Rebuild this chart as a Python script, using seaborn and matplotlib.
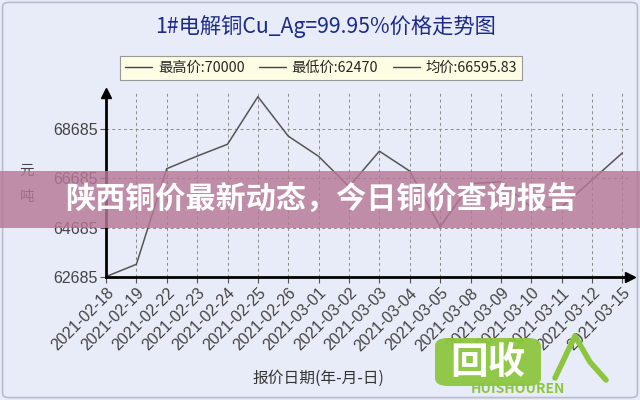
import matplotlib
matplotlib.use('Agg')
import matplotlib.pyplot as plt
import matplotlib.patches as mpatches
from matplotlib.lines import Line2D
import seaborn as sns
import pandas as pd

sns.set_theme(style='white')
plt.rcParams['font.family'] = ['Noto Sans CJK SC', 'DejaVu Sans']
plt.rcParams['axes.unicode_minus'] = False

# data
dates = ['2021-02-18', '2021-02-19', '2021-02-22', '2021-02-23', '2021-02-24',
         '2021-02-25', '2021-02-26', '2021-03-01', '2021-03-02', '2021-03-03',
         '2021-03-04', '2021-03-05', '2021-03-08', '2021-03-09', '2021-03-10',
         '2021-03-11', '2021-03-12', '2021-03-15']
prices = [62700, 63200, 67080, 67590, 68070, 70000, 68400, 67580, 66350, 67790,
          66980, 64720, 66470, 66550, 65500, 65520, 66620, 67720]
yticks = [62685, 64685, 66685, 68685]
legend_items = ['最高价:70000', '最低价:62470', '均价:66595.83']

BG = '#e8ecf8'
GRID = '#8a8a8a'
TXT = '#444444'

df = pd.DataFrame({'idx': range(len(dates)), 'price': prices})

fig = plt.figure(figsize=(6.4, 4.0), dpi=100, facecolor=BG)
ax = fig.add_axes([106 / 640, 123 / 400, 524 / 640, 184 / 400])
ax.set_facecolor(BG)

sns.lineplot(data=df, x='idx', y='price', ax=ax, color='#555555', linewidth=1.1)

ax.set_xlim(0, 17.25)
ax.set_ylim(62685, 70150)
ax.set_xticks(range(len(dates)))
ax.set_xticklabels(dates, rotation=45, ha='right', rotation_mode='anchor',
                   fontsize=11.5, color=TXT, family='Liberation Sans')
ax.set_yticks(yticks)
ax.set_yticklabels([str(v) for v in yticks], fontsize=11.5, color=TXT, family='Liberation Sans')
ax.tick_params(axis='both', length=4, width=0.8, color='#555555', pad=2, direction='out')
ax.tick_params(axis='x', bottom=True)
ax.tick_params(axis='y', left=True)

for x in range(len(dates)):
    ax.axvline(x, color=GRID, linestyle=(0, (3, 3)), linewidth=0.7, zorder=0)
for y in yticks[1:]:
    ax.axhline(y, color=GRID, linestyle=(0, (3, 3)), linewidth=0.7, zorder=0)

for s in ['top', 'right']:
    ax.spines[s].set_visible(False)
for s in ['left', 'bottom']:
    ax.spines[s].set_color('black')
    ax.spines[s].set_linewidth(2)
# axis arrows
ax.plot(0, 1.0, marker='^', color='black', markersize=7, transform=ax.transAxes, clip_on=False)
ax.plot(1.0, 0, marker='>', color='black', markersize=7, transform=ax.transAxes, clip_on=False)

ax.set_xlabel('')
ax.set_ylabel('')
fig.text(318 / 640, 1 - 378 / 400, '报价日期(年-月-日)', fontsize=11.3, color='#333333',
         ha='center', va='center')
fig.text(27 / 640, 1 - 184 / 400, '元\n\n吨', fontsize=10.5, color=TXT,
         ha='center', va='center', linespacing=0.95)

fig.text(326 / 640, 1 - 27 / 400, '1#电解铜Cu_Ag=99.95%价格走势图', fontsize=15.3,
         color='#1c2a8a', ha='center', va='center')

handles = [Line2D([0], [0], color='#444444', linewidth=1.0) for _ in legend_items]
leg = fig.legend(handles, legend_items, loc='center', bbox_to_anchor=(321 / 640, 1 - 68 / 400),
                 ncol=3, fontsize=10.3, frameon=True, facecolor='#fdfde4', edgecolor='#999999',
                 handlelength=1.9, handletextpad=0.4, columnspacing=1.0,
                 borderpad=0.35, fancybox=False)
leg.get_frame().set_linewidth(0.8)
leg.get_frame().set_alpha(1)

# outer border
fig.patches.append(mpatches.FancyBboxPatch((0.004, 0.006), 0.992, 0.988,
                                           boxstyle='round,pad=0,rounding_size=0.01',
                                           transform=fig.transFigure, fill=False,
                                           edgecolor='#b8bccc', linewidth=1.2))

# banner overlay
fig.patches.append(mpatches.Rectangle((0, 1 - 228 / 400), 1, 57 / 400, transform=fig.transFigure,
                                      facecolor='#b77896', alpha=0.82, edgecolor='none', zorder=5))
fig.text(321 / 640, 1 - 199 / 400, '陕西铜价最新动态，今日铜价查询报告', fontsize=21.7,
         fontweight='bold', color='white', ha='center', va='center', zorder=6)

# logo watermark
GREEN = '#8cc63f'
fig.patches.append(mpatches.FancyBboxPatch((435 / 640, 1 - 386 / 400), 106 / 640, 48 / 400,
                                           boxstyle='round,pad=0,rounding_size=0.02',
                                           transform=fig.transFigure, facecolor=GREEN,
                                           edgecolor='none', alpha=0.95, zorder=5))
fig.text(488 / 640, 1 - 362 / 400, '回收', fontsize=27, fontweight='bold', color='white',
         ha='center', va='center', zorder=6)
fig.text(518 / 640, 1 - 389 / 400, 'HUISHOUREN', fontsize=10, fontweight='bold', style='italic',
         color=GREEN, ha='center', va='center', zorder=6)
fig.lines.append(Line2D([555 / 640, 575 / 640, 590 / 640, 606 / 640],
                        [1 - 378 / 400, 1 - 336 / 400, 1 - 362 / 400, 1 - 380 / 400],
                        transform=fig.transFigure, color=GREEN, linewidth=4, zorder=6))

fig.savefig('out.png', dpi=100, facecolor=fig.get_facecolor())
